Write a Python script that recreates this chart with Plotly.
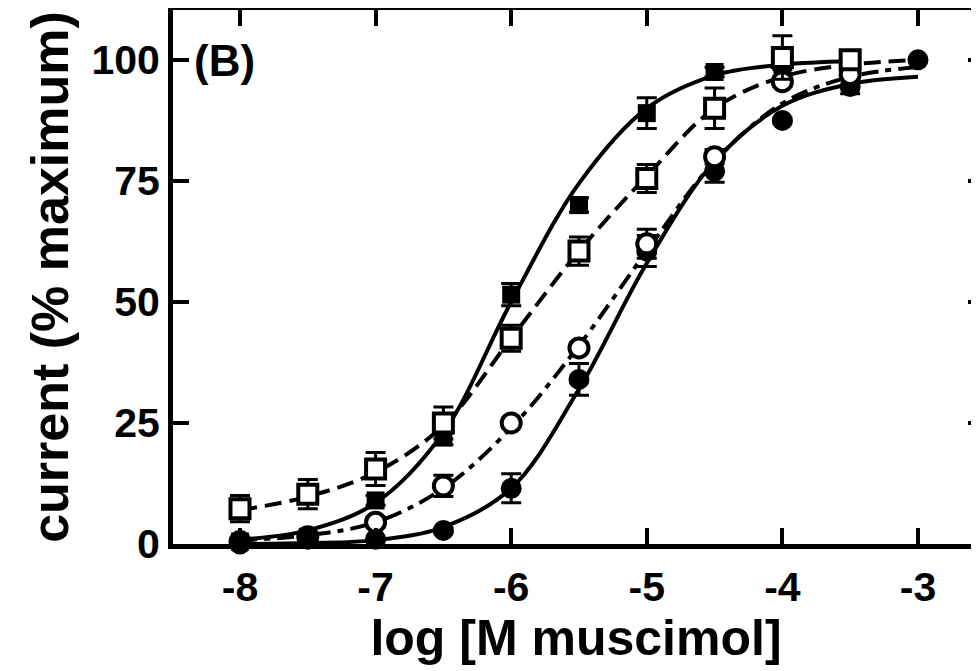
import plotly.graph_objects as go

# ---- data ----
tick_vals_x = [-8, -7, -6, -5, -4, -3]
tick_text_x = ["-8", "-7", "-6", "-5", "-4", "-3"]
tick_vals_y = [0, 25, 50, 75, 100]

# filled squares
fsq_x = [-8, -7.5, -7, -6.5, -6, -5.5, -5, -4.5, -4, -3.5]
fsq_y = [0.5, 1.5, 9, 22, 51.5, 70, 89, 97.5, 99, 100]
fsq_err = [0, 0, 1, 1.5, 2.3, 1.5, 3.2, 1, 1, 1]

# open squares
osq_x = [-8, -7.5, -7, -6.5, -6, -5.5, -5, -4.5, -4, -3.5]
osq_y = [7.3, 10.3, 15.5, 25, 42.5, 60.5, 75.5, 90, 100.5, 100]
osq_err = [2.7, 3, 3.4, 3.3, 2.7, 2.9, 2.9, 4.2, 4.5, 1]

# open circles
oci_x = [-8, -7.5, -7, -6.5, -6, -5.5, -5, -4.5, -4, -3.5]
oci_y = [0.5, 1.5, 4.5, 12, 25, 40.5, 62, 80, 95.5, 97]
oci_err = [0, 0, 1, 2.2, 0.8, 1, 3, 1.5, 1, 1]

# filled circles
fci_x = [-8, -7.5, -7, -6.5, -6, -5.5, -5, -4.5, -4, -3.5, -3]
fci_y = [0, 1, 1, 2.8, 11.5, 34, 60.5, 77, 87.5, 94.5, 100]
fci_err = [0, 0, 0, 0.5, 3, 3.3, 3.2, 2.3, 0.5, 1.5, 0]

# fitted curves
fit_x = [-8, -7.5, -7, -6.5, -6, -5.5, -5, -4.5, -4, -3.5, -3]
fit_fsq = [0.9, 2.8, 8.5, 23, 50, 74.5, 90, 96.8, 99, 99.7]
fit_osq = [7, 9.8, 14.8, 24.5, 42.5, 60.5, 76, 90, 96.5, 99, 100]
fit_oci = [0.8, 1.8, 4.5, 11.5, 24, 41, 60.5, 79, 91, 96.5, 98.5]
fit_fci = [0, 0.2, 0.8, 3.5, 11.5, 32, 58, 79, 90.5, 95, 96.5]

FONT = "Liberation Sans, Arial, sans-serif"
BLACK = "#000000"

fig = go.Figure()

def curve(xs, ys, dash):
    fig.add_trace(go.Scatter(
        x=xs[:len(ys)], y=ys, mode="lines",
        line=dict(color=BLACK, width=4, dash=dash, shape="spline", smoothing=1.0),
        hoverinfo="skip", showlegend=False, cliponaxis=False))

curve(fit_x, fit_fsq, "solid")
curve(fit_x, fit_fci, "solid")
curve(fit_x, fit_osq, "17px,8px")
curve(fit_x, fit_oci, "17px,7px,6px,7px")

def pts(xs, ys, err, symbol, size, fill):
    fig.add_trace(go.Scatter(
        x=xs, y=ys, mode="markers",
        marker=dict(symbol=symbol, size=size,
                    color=BLACK if fill else "white",
                    line=dict(color=BLACK, width=0 if fill else 4)),
        error_y=dict(type="data", array=err, visible=True,
                     color=BLACK, thickness=3, width=10),
        showlegend=False, cliponaxis=False))

pts(fci_x, fci_y, fci_err, "circle", 21, True)
pts(oci_x, oci_y, oci_err, "circle", 19, False)
pts(fsq_x, fsq_y, fsq_err, "square", 18, True)
pts(osq_x, osq_y, osq_err, "square", 19, False)

# dummy trace for the right-hand tick axis
fig.add_trace(go.Scatter(x=[None], y=[None], yaxis="y2", mode="markers",
                         showlegend=False, hoverinfo="skip"))

fig.update_layout(
    width=971, height=663,
    margin=dict(l=165, r=0, t=2, b=127, autoexpand=False),
    paper_bgcolor="white", plot_bgcolor="white",
    font=dict(family=FONT, color=BLACK, weight="bold"),
    xaxis=dict(
        range=[-8.494, -2.55], tickvals=tick_vals_x, ticktext=tick_text_x,
        showgrid=False, zeroline=False,
        showline=True, linecolor=BLACK, linewidth=5, mirror="ticks",
        ticks="inside", ticklen=16, tickwidth=4, tickcolor=BLACK,
        tickfont=dict(size=41, family=FONT, weight="bold"),
        ticklabelstandoff=3,
        title=dict(text="log [M muscimol]", standoff=8,
                   font=dict(size=50, family=FONT, weight="bold")),
    ),
    yaxis=dict(
        range=[0, 110.3], tickvals=tick_vals_y,
        showgrid=False, zeroline=False,
        showline=True, linecolor=BLACK, linewidth=5, mirror=False,
        ticks="inside", ticklen=16, tickwidth=4, tickcolor=BLACK,
        tickfont=dict(size=41, family=FONT, weight="bold"),
        ticklabelstandoff=0,
        title=dict(text="current (% maximum)", standoff=8,
                   font=dict(size=52, family=FONT, weight="bold")),
    ),
    yaxis2=dict(
        overlaying="y", side="right", range=[0, 110.3],
        tickvals=[25, 50, 75, 100], showticklabels=False,
        showgrid=False, zeroline=False, showline=False,
        ticks="inside", ticklen=11, tickwidth=4, tickcolor=BLACK,
    ),
    annotations=[dict(text="(B)", x=0.0645, y=0.906, xref="paper", yref="paper",
                      xanchor="center", yanchor="middle", showarrow=False,
                      font=dict(size=44, family=FONT, weight="bold", color=BLACK))],
)

fig.write_html("out.html")
